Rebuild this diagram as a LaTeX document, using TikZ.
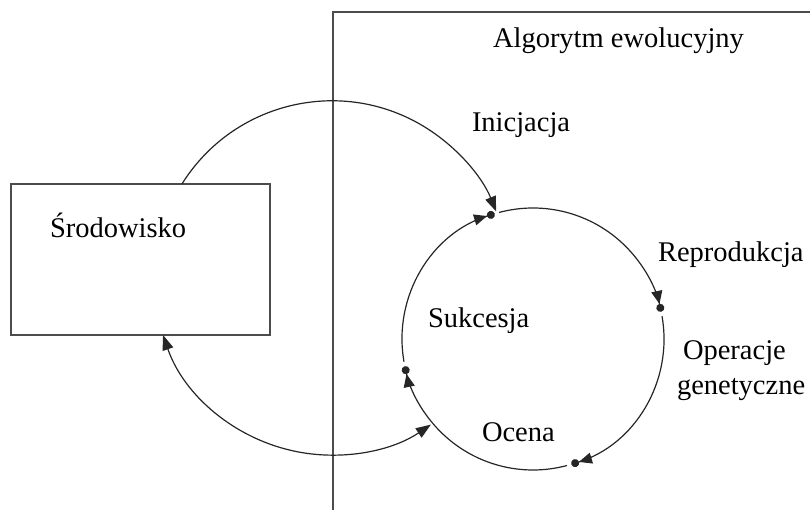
\documentclass[tikz,border=0pt]{standalone}
\usepackage{fontspec}
\setmainfont{Liberation Serif}
\usetikzlibrary{arrows.meta,calc}

\tikzset{
  lbl/.style={anchor=base west, inner sep=0pt, outer sep=0pt,
              font=\fontsize{28.5}{34}\selectfont},
  frame/.style={line width=1.6pt, draw=black!70},
  flow/.style={line width=1.2pt, draw=black!85},
  tip/.style={-{Triangle[length=15pt,width=11pt]}},
  both/.style={{Triangle[length=15pt,width=11pt]}-{Triangle[length=15pt,width=11pt]}},
  cyc/.style={-{Triangle[length=13pt,width=11pt] Circle[length=8pt]}},
}

\begin{document}
\begin{tikzpicture}[x=1pt,y=1pt]
  \useasboundingbox (0,0) rectangle (810,510);

  % environment box and its label
  \node[frame, draw, rectangle, minimum width=259pt, minimum height=151pt,
        inner sep=0pt, outer sep=0pt] (env) at (140.5,250.5) {};
  \node[lbl] (envlbl) at (50,272) {Środowisko};

  % frame of the evolutionary algorithm
  \coordinate (fb) at (333,0);
  \coordinate (fc) at (815,498);
  \draw[frame] (fb) |- (fc);
  \node[lbl] (title) at (493,462) {Algorytm ewolucyjny};

  % the cycle of the algorithm
  \node[circle, minimum size=262pt, inner sep=0pt, outer sep=0pt] (circ) at (533,171) {};
  \draw[flow,cyc] (circ.190) arc[start angle=190, end angle=107, radius=131];
  \draw[flow,cyc] (circ.105) arc[start angle=105, end angle=12,  radius=131];
  \draw[flow,cyc] (circ.10)  arc[start angle=10,  end angle=-73, radius=131];
  \draw[flow,cyc] (circ.-75) arc[start angle=-75, end angle=-168,radius=131];

  % links between the environment and the cycle
  \coordinate (envTop) at ($(env.north west)!0.66!(env.north east)$);
  \coordinate (envBot) at ($(env.south west)!0.587!(env.south east)$);
  \draw[flow,tip] (envTop) arc[start angle=148, end angle=22, radius=177];
  \draw[flow,both] (envBot) arc[start angle=199, end angle=304, radius=178];

  % stage labels
  \node[lbl] (ini) at (472,378) {Inicjacja};
  \node[lbl] (rep) at (658,248) {Reprodukcja};
  \node[lbl] (op1) at (683,150) {Operacje};
  \node[lbl] (op2) at (677,115) {genetyczne};
  \node[lbl] (suk) at (428,182) {Sukcesja};
  \node[lbl] (oce) at (482,68)  {Ocena};
\end{tikzpicture}
\end{document}
